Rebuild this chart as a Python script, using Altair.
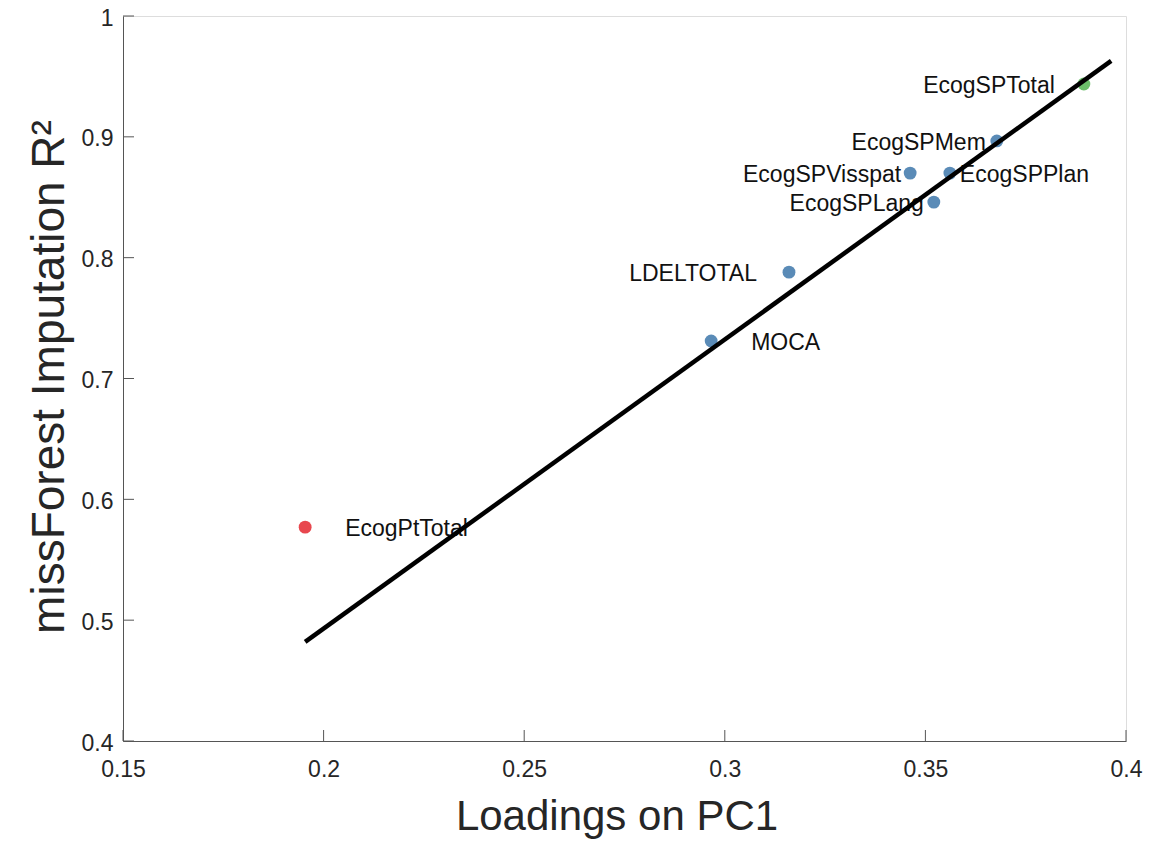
import altair as alt
import pandas as pd

# ---- data ----
names = ["EcogPtTotal", "MOCA", "LDELTOTAL", "EcogSPLang", "EcogSPVisspat",
         "EcogSPPlan", "EcogSPMem", "EcogSPTotal"]
loadings = [0.1954, 0.2966, 0.3160, 0.3521, 0.3462, 0.3561, 0.3678, 0.3895]
r2 = [0.577, 0.731, 0.788, 0.846, 0.870, 0.870, 0.8966, 0.9437]
point_colors = ["#e8474e", "#5a8bb7", "#5a8bb7", "#5a8bb7", "#5a8bb7",
                "#5a8bb7", "#5a8bb7", "#6cbf6a"]
label_side = ["left", "left", "right", "right", "right", "left", "right", "right"]
label_dx = [40, 40, -32, -10, -9, 10, -11, -29]

fit_x = [0.1954, 0.3963]
fit_y = [0.482, 0.9628]

x_ticks = [0.15, 0.2, 0.25, 0.3, 0.35, 0.4]
y_ticks = [0.4, 0.5, 0.6, 0.7, 0.8, 0.9, 1.0]

FONT = "Liberation Sans"
W, H = 1003, 725

pts = pd.DataFrame({"name": names, "x": loadings, "y": r2, "color": point_colors})
fit = pd.DataFrame({"x": fit_x, "y": fit_y})
xt = pd.DataFrame({"v": x_ticks})
yt = pd.DataFrame({"v": y_ticks})

xscale = alt.Scale(domain=[0.15, 0.4], nice=False, zero=False)
yscale = alt.Scale(domain=[0.4, 1.0], nice=False, zero=False)

xaxis = alt.Axis(values=x_ticks, format="~g", ticks=False, grid=False,
                 domainColor="#555555", domainWidth=1,
                 labelFont=FONT, labelFontSize=23, labelColor="#262626",
                 labelPadding=17, labelFlush=False,
                 title="Loadings on PC1", titleFont=FONT, titleFontSize=42,
                 titleFontWeight="normal", titleColor="#262626",
                 titleX=W / 2 - 8, titleY=88, titleBaseline="alphabetic",
                 titleAlign="center")
yaxis = alt.Axis(values=y_ticks, format="~g", ticks=False, grid=False,
                 domainColor="#555555", domainWidth=1,
                 labelFont=FONT, labelFontSize=23, labelColor="#262626",
                 labelPadding=10, labelFlush=False, labelOffset=2,
                 title="missForest Imputation R²", titleFont=FONT, titleFontSize=46,
                 titleFontWeight="normal", titleColor="#262626",
                 titleAngle=270, titleX=-60, titleY=H / 2 - 2,
                 titleBaseline="alphabetic", titleAlign="center")

points = alt.Chart(pts).mark_circle(size=165, opacity=1).encode(
    x=alt.X("x:Q", scale=xscale, axis=xaxis),
    y=alt.Y("y:Q", scale=yscale, axis=yaxis),
    color=alt.Color("color:N", scale=None))

labels = []
for nm, side, dx in zip(names, label_side, label_dx):
    labels.append(
        alt.Chart(pts).transform_filter(alt.datum.name == nm).mark_text(
            align=side, baseline="middle", font=FONT, fontSize=23,
            color="#111111", dx=dx, dy=2
        ).encode(x=alt.X("x:Q", scale=xscale), y=alt.Y("y:Q", scale=yscale),
                 text="name:N")
    )

fit_line = alt.Chart(fit).mark_line(color="black", strokeWidth=4.5).encode(
    x=alt.X("x:Q", scale=xscale), y=alt.Y("y:Q", scale=yscale))

xtick_rules = alt.Chart(xt).mark_rule(color="#555555", strokeWidth=1).encode(
    x=alt.X("v:Q", scale=xscale), y=alt.value(H), y2=alt.value(H - 11))
ytick_rules = alt.Chart(yt).mark_rule(color="#555555", strokeWidth=1).encode(
    y=alt.Y("v:Q", scale=yscale), x=alt.value(0), x2=alt.value(11))

chart = alt.layer(
    points, *labels, fit_line, xtick_rules, ytick_rules
).properties(
    width=W, height=H,
    autosize=alt.AutoSizeParams(type="none"),
    padding={"left": 115, "top": 8, "right": 30, "bottom": 100},
).configure_view(stroke=None).configure(background="white")

chart.save("out.html", embed_options={"renderer": "svg", "actions": False})
